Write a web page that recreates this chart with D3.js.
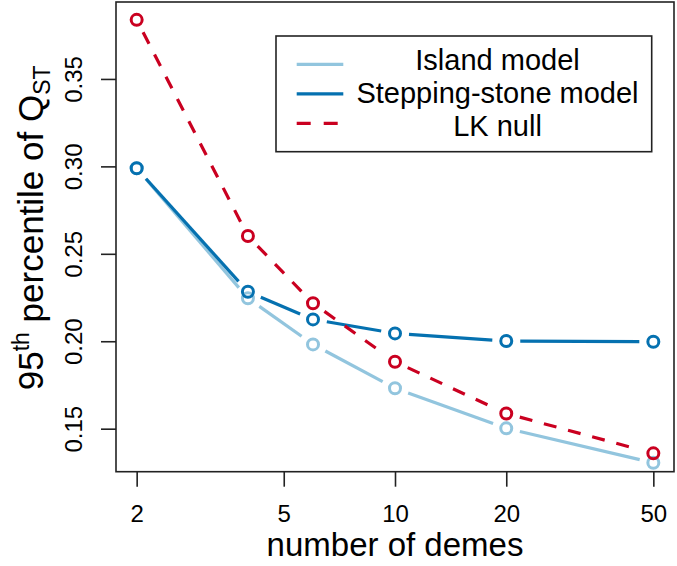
<!DOCTYPE html>
<html>
<head>
<meta charset="utf-8">
<script src="https://cdn.jsdelivr.net/npm/d3@7"></script>
<style>
  body { margin: 0; background: #fff; }
  text { font-family: "Liberation Sans", Arial, Helvetica, sans-serif; fill: #000; }
</style>
</head>
<body>
<div id="chart"></div>
<script>
// data
var demes = [2, 4, 6, 10, 20, 50];
var islandModel = [0.2990, 0.2246, 0.1982, 0.1731, 0.1502, 0.1305];
var steppingStone = [0.2989, 0.2283, 0.2125, 0.2045, 0.2001, 0.1997];
var lkNull = [0.3838, 0.2602, 0.2217, 0.1883, 0.1587, 0.1359];
var xTicks = [2, 5, 10, 20, 50];
var yTicks = [0.15, 0.20, 0.25, 0.30, 0.35];
var seriesNames = ["Island model", "Stepping-stone model", "LK null"];

var colors = ["#92c5de", "#0571b0", "#ca0020"];

var W = 677, H = 566;
var plot = {left: 116, right: 674, top: 2, bottom: 471.7};

var svg = d3.select("#chart").append("svg")
    .attr("width", W)
    .attr("height", H);

// R-like 4% padding on log x
var lo = Math.log10(d3.min(demes)), hi = Math.log10(d3.max(demes));
var pad = (hi - lo) * 0.04;
var x = d3.scaleLog()
    .domain([Math.pow(10, lo - pad), Math.pow(10, hi + pad)])
    .range([plot.left, plot.right]);

var y = d3.scaleLinear()
    .domain([0.1254, 0.394])
    .range([plot.bottom, plot.top]);

// axes
var xAxis = svg.append("g")
    .attr("transform", "translate(0," + plot.bottom + ")")
    .call(d3.axisBottom(x).tickValues(xTicks).tickFormat(d3.format("d")).tickSize(15).tickPadding(18));
var yAxis = svg.append("g")
    .attr("transform", "translate(" + plot.left + ",0)")
    .call(d3.axisLeft(y).tickValues(yTicks).tickFormat(d3.format(".2f")).tickSize(15));

[xAxis, yAxis].forEach(function(a) {
    a.select(".domain").remove();
    a.selectAll(".tick line").attr("stroke", "#222").attr("stroke-width", 1.6);
});
xAxis.selectAll(".tick text")
    .attr("font-size", 24)
    .attr("fill", "#000")
    .attr("dy", null)
    .attr("y", 50);

// rotated y tick labels
yAxis.selectAll(".tick text")
    .attr("font-size", 24)
    .attr("fill", "#000")
    .attr("x", null).attr("dy", null)
    .attr("text-anchor", "middle")
    .attr("transform", "translate(-34,0) rotate(-90)");

// box
svg.append("rect")
    .attr("x", plot.left)
    .attr("y", plot.top)
    .attr("width", plot.right - plot.left)
    .attr("height", plot.bottom - plot.top)
    .attr("fill", "none")
    .attr("stroke", "#222")
    .attr("stroke-width", 1.6);

// type = "b": segments with gaps around points
var gap = 14;
function drawSeries(values, color, dash) {
    var pts = demes.map(function(d, i) { return [x(d), y(values[i])]; });
    var g = svg.append("g");
    for (var i = 0; i < pts.length - 1; i++) {
        var p = pts[i], q = pts[i + 1];
        var dx = q[0] - p[0], dy = q[1] - p[1];
        var len = Math.sqrt(dx * dx + dy * dy);
        if (len <= 2 * gap) continue;
        var ux = dx / len, uy = dy / len;
        g.append("line")
            .attr("x1", p[0] + ux * gap).attr("y1", p[1] + uy * gap)
            .attr("x2", q[0] - ux * gap).attr("y2", q[1] - uy * gap)
            .attr("stroke", color)
            .attr("stroke-width", 3.2)
            .attr("stroke-dasharray", dash);
    }
    g.selectAll("circle")
        .data(pts)
        .enter().append("circle")
        .attr("cx", function(d) { return d[0]; })
        .attr("cy", function(d) { return d[1]; })
        .attr("r", 5.5)
        .attr("fill", "none")
        .attr("stroke", color)
        .attr("stroke-width", 3);
}
drawSeries(islandModel, colors[0], null);
drawSeries(steppingStone, colors[1], null);
drawSeries(lkNull, colors[2], "13,12");

// legend
var legend = svg.append("g");
legend.append("rect")
    .attr("x", 276).attr("y", 36)
    .attr("width", 375.7).attr("height", 115.7)
    .attr("fill", "#fff")
    .attr("stroke", "#222")
    .attr("stroke-width", 1.6);
seriesNames.forEach(function(name, i) {
    var ly = 64.3 + i * 29.5;
    legend.append("line")
        .attr("x1", 296.7).attr("x2", 343.3)
        .attr("y1", ly).attr("y2", ly)
        .attr("stroke", colors[i])
        .attr("stroke-width", 3.2)
        .attr("stroke-dasharray", i === 2 ? "14,13" : null);
    legend.append("text")
        .attr("x", 497.5)
        .attr("y", 70 + i * 33)
        .attr("text-anchor", "middle")
        .attr("font-size", 29)
        .text(name);
});

// axis titles
svg.append("text")
    .attr("x", (plot.left + plot.right) / 2)
    .attr("y", 556)
    .attr("text-anchor", "middle")
    .attr("font-size", 33)
    .text("number of demes");

var yt = svg.append("text")
    .attr("transform", "translate(43," + ((plot.top + plot.bottom) / 2 - 9) + ") rotate(-90)")
    .attr("text-anchor", "middle")
    .attr("font-size", 35);
yt.append("tspan").text("95");
yt.append("tspan").attr("font-size", 23).attr("dy", -14).text("th");
yt.append("tspan").attr("dy", 14).text(" percentile of Q");
yt.append("tspan").attr("font-size", 23).attr("dy", 7).text("ST");
</script>
</body>
</html>
